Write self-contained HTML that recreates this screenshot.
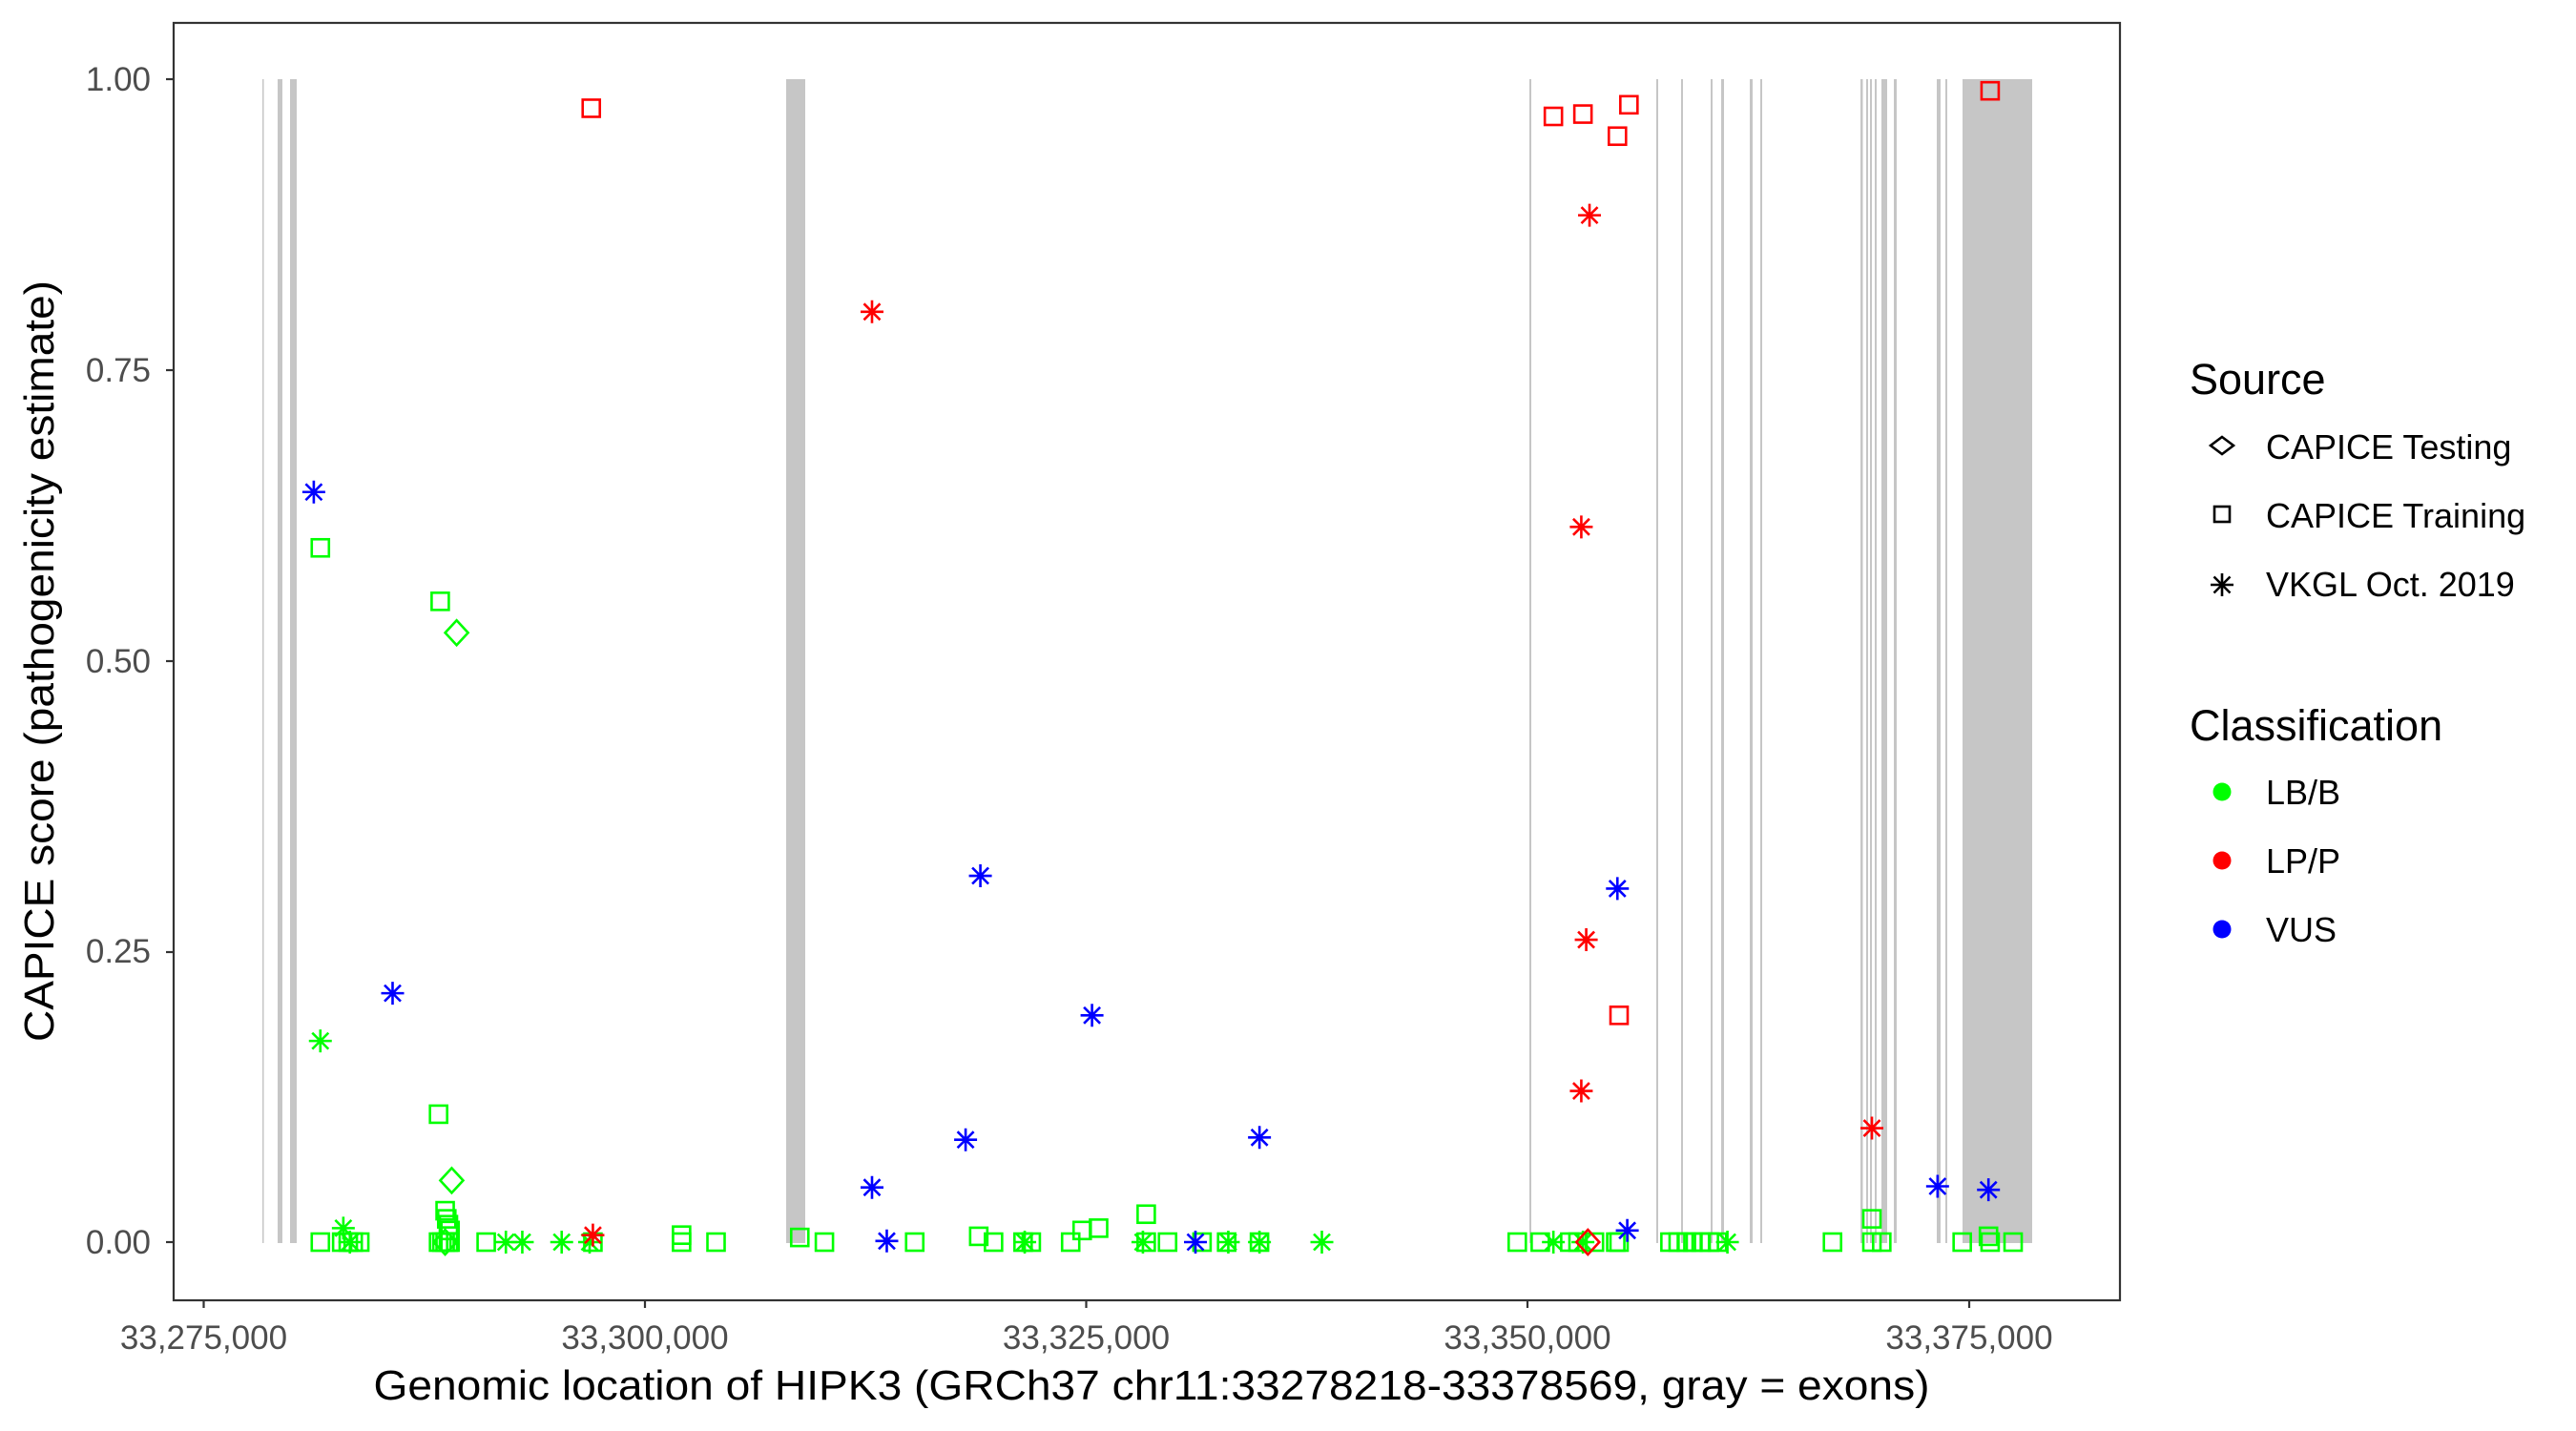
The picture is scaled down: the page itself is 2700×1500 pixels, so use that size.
<!DOCTYPE html>
<html><head><meta charset="utf-8"><style>
html,body{margin:0;padding:0;background:#fff}
svg{display:block}
text{font-family:"Liberation Sans",Arial,sans-serif}
</style></head><body>
<svg id="s" width="2700" height="1500" viewBox="0 0 2700 1500" xmlns="http://www.w3.org/2000/svg">
<rect width="2700" height="1500" fill="#fff"/>
<g id="exons" fill="#c6c6c6"></g>
<g id="pts" fill="none" stroke-width="2.6"></g>
<rect x="182" y="24" width="2040" height="1339" fill="none" stroke="#333" stroke-width="2.2"/>
<g id="axes" stroke="#333" stroke-width="2.2"></g>
<g font-size="35" fill="#4d4d4d" text-anchor="end">
<text x="158" y="95">1.00</text>
<text x="158" y="400">0.75</text>
<text x="158" y="705">0.50</text>
<text x="158" y="1009">0.25</text>
<text x="158" y="1314">0.00</text>
</g>
<g font-size="35" fill="#4d4d4d" text-anchor="middle">
<text x="213.5" y="1414">33,275,000</text>
<text x="676" y="1414">33,300,000</text>
<text x="1138.5" y="1414">33,325,000</text>
<text x="1601" y="1414">33,350,000</text>
<text x="2064" y="1414">33,375,000</text>
</g>
<text x="1207" y="1467" font-size="44" text-anchor="middle" textLength="1631" lengthAdjust="spacingAndGlyphs">Genomic location of HIPK3 (GRCh37 chr11:33278218-33378569, gray = exons)</text>
<text transform="translate(56,693) rotate(-90)" font-size="44" text-anchor="middle" textLength="798" lengthAdjust="spacingAndGlyphs">CAPICE score (pathogenicity estimate)</text>
<g font-size="45"><text x="2295" y="413">Source</text><text x="2295" y="776">Classification</text></g>
<g font-size="36">
<text x="2375" y="481">CAPICE Testing</text>
<text x="2375" y="553">CAPICE Training</text>
<text x="2375" y="625">VKGL Oct. 2019</text>
<text x="2375" y="843">LB/B</text>
<text x="2375" y="915">LP/P</text>
<text x="2375" y="987">VUS</text>
</g>
<g id="leg" fill="none" stroke="#000" stroke-width="2.6"></g>
<circle cx="2329" cy="830" r="9.5" fill="#00ff00"/>
<circle cx="2329" cy="902" r="9.5" fill="#ff0000"/>
<circle cx="2329" cy="974" r="9.5" fill="#0000ff"/>
</svg>
<script>
var NS="http://www.w3.org/2000/svg";
function el(p,t,a){var e=document.createElementNS(NS,t);for(var k in a)e.setAttribute(k,a[k]);p.appendChild(e);return e;}
var ex=document.getElementById('exons');
[[275,1.5],[291,5],[304,7],[824,20],[1603,2],[1736,2],[1762,2],[1793,2],[1804,3],[1834,3],[1845,2],[1950,2.5],[1956,2],[1960,2],[1965,2],[1972,6],[1985,3],[2030,4],[2039,2],[2057,73]].forEach(function(b){el(ex,'rect',{x:b[0],y:83,width:b[1],height:1220});});
var ax=document.getElementById('axes');
[83,388,693,998,1302].forEach(function(y){el(ax,'line',{x1:174,x2:182,y1:y,y2:y});});
[213.5,676,1138.5,1601,2064].forEach(function(x){el(ax,'line',{x1:x,x2:x,y1:1363,y2:1371});});
var P=document.getElementById('pts');
function Y(s){return 1302-s*1219;}
function shape(g,t,x,y,c){
 if(t=='s')el(g,'rect',{x:x-9,y:y-9,width:18,height:18,stroke:c});
 else if(t=='d')el(g,'path',{d:'M'+x+' '+(y-13)+'L'+(x+12)+' '+y+'L'+x+' '+(y+13)+'L'+(x-12)+' '+y+'Z',stroke:c});
 else{var r=12,q=8.5;el(g,'path',{d:'M'+(x-r)+' '+y+'H'+(x+r)+'M'+x+' '+(y-r)+'V'+(y+r)+'M'+(x-q)+' '+(y-q)+'L'+(x+q)+' '+(y+q)+'M'+(x-q)+' '+(y+q)+'L'+(x+q)+' '+(y-q),stroke:c});}
}
var G='#00ff00',R='#ff0000',B='#0000ff',k=1.731;
var pts=[];
[194,207,211,214,218,266,268,270,272,273,295,360,414,435,501,556,604,622,627,651,697,710,731,746,766,923,937,955,960,970,983,985,1016,1021,1026,1030,1035,1040,1045,1115,1139,1145,1194,1211,1225].forEach(function(d){pts.push(['s',d,0,G]);});
[[486,0.004],[595,0.005],[658,0.01],[668,0.012],[697,0.024],[270,0.027],[271,0.02],[272,0.015],[273,0.01],[1139,0.02],[1210,0.005],[414,0.006],[194,0.597],[267,0.551],[266,0.11]].forEach(function(p){pts.push(['s',p[0],p[1],G]);});
[307,317,341,358,623,695,747,766,804,945,963,1051,212].forEach(function(d){pts.push(['a',d,0,G]);});
pts.push(['a',194,0.173,G],['a',208,0.012,G],['d',277,0.524,G],['d',274,0.053,G],['d',270,0,G]);
[[359,0.975],[945,0.968],[963,0.97],[991,0.978],[984,0.951],[1211,0.99],[985,0.195]].forEach(function(p){pts.push(['s',p[0],p[1],R]);});
[[530,0.80],[967,0.883],[962,0.615],[965,0.26],[962,0.13],[1139,0.098],[360,0.006]].forEach(function(p){pts.push(['a',p[0],p[1],R]);});
pts.push(['d',966,0,R]);
[[190,0.645],[238,0.214],[596,0.315],[664,0.195],[587,0.088],[766,0.09],[530,0.047],[984,0.304],[1179,0.048],[1210,0.045],[539,0.001],[727,0],[990,0.01]].forEach(function(p){pts.push(['a',p[0],p[1],B]);});
pts.forEach(function(p){var d=190+(p[1]-190)*0.99416;shape(P,p[0],d*k,Y(p[2]),p[3]);});
var L=document.getElementById('leg');
el(L,'path',{d:'M2329 458L2341 467L2329 476L2317 467Z'});
el(L,'rect',{x:2321,y:531,width:16,height:16});
shape(L,'a',2329,613,'#000');
</script>
</body></html>
